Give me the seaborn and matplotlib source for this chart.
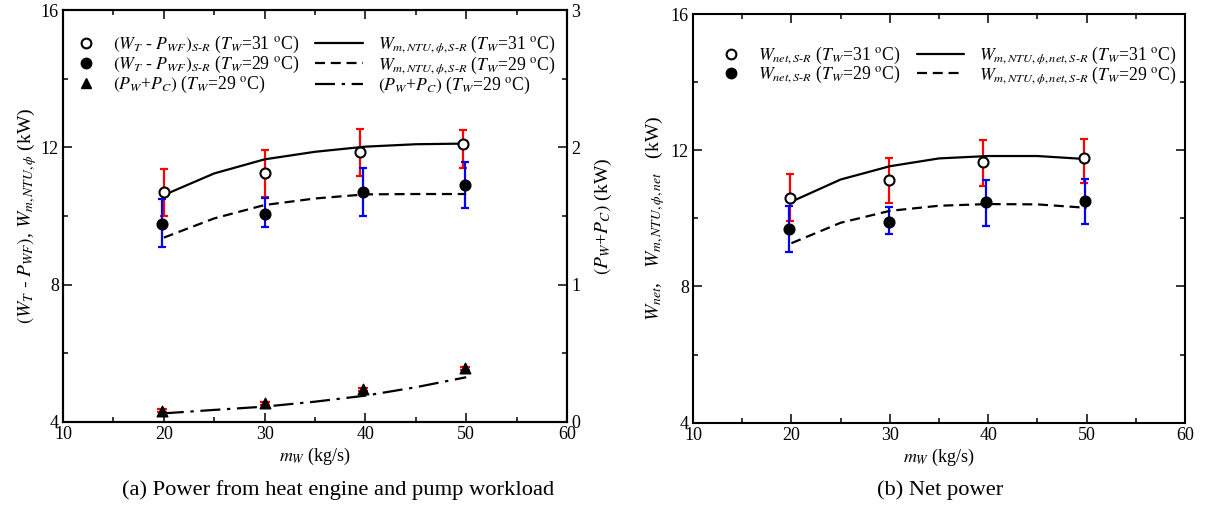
import matplotlib
matplotlib.use("Agg")
import matplotlib.pyplot as plt
import seaborn as sns
from matplotlib.lines import Line2D
from matplotlib.ticker import MultipleLocator

# ---------------- data ----------------
# (a) heat-engine output and pump work
mw_open_a = [20.0, 30.0, 39.5, 49.7]
mw_fill_a = [19.8, 30.0, 39.8, 49.9]
w_open_a = [10.71, 11.26, 11.87, 12.11]
w_open_a_lo = [10.01, 10.56, 11.16, 11.39]
w_open_a_hi = [11.37, 11.92, 12.53, 12.50]
w_fill_a = [9.77, 10.05, 10.71, 10.90]
w_fill_a_lo = [9.09, 9.69, 10.01, 10.22]
w_fill_a_hi = [10.49, 10.52, 11.39, 11.58]
pump_a = [0.082, 0.136, 0.239, 0.392]
pump_a_err = [0.012, 0.012, 0.012, 0.012]

mw_model = [20, 25, 30, 35, 40, 45, 50]
model31_a = [10.61, 11.24, 11.65, 11.87, 12.02, 12.09, 12.11]
model29_a = [9.37, 9.93, 10.32, 10.51, 10.63, 10.64, 10.64]
pump_model = [0.063, 0.088, 0.112, 0.148, 0.192, 0.253, 0.326]

# (b) net power
mw_open_b = [19.86, 29.92, 39.47, 49.74]
mw_fill_b = [19.76, 29.92, 39.74, 49.84]
w_open_b = [10.61, 11.12, 11.66, 11.76]
w_open_b_lo = [9.93, 10.44, 10.95, 11.03]
w_open_b_hi = [11.29, 11.78, 12.29, 12.34]
w_fill_b = [9.69, 9.90, 10.47, 10.52]
w_fill_b_lo = [9.00, 9.54, 9.79, 9.84]
w_fill_b_hi = [10.37, 10.34, 11.12, 11.17]
model31_b = [10.49, 11.14, 11.53, 11.76, 11.83, 11.83, 11.74]
model29_b = [9.27, 9.87, 10.22, 10.37, 10.42, 10.41, 10.31]

# ---------------- style ----------------
sns.set_theme(style="ticks")
plt.rcParams.update({
    "font.family": ["Liberation Serif", "DejaVu Serif"],
    "mathtext.fontset": "stix",
    "axes.linewidth": 1.5,
    "xtick.direction": "in",
    "ytick.direction": "in",
    "xtick.major.size": 6.5,
    "ytick.major.size": 6.5,
    "xtick.minor.size": 3.6,
    "ytick.minor.size": 3.6,
    "xtick.major.width": 1.1,
    "ytick.major.width": 1.1,
    "xtick.minor.width": 1.1,
    "ytick.minor.width": 1.1,
    "xtick.color": "black",
    "ytick.color": "black",
    "axes.edgecolor": "black",
    "text.color": "black",
    "axes.labelcolor": "black",
})

TICK_FS = 13
LABEL_FS = 14
LEG_FS = 12.7
DASHED = (0, (4.5, 2.6))
DASHDOT = (0, (9, 3, 1.5, 3))
DEG = r"$^{\rm o}$C"

fig = plt.figure(figsize=(12.06, 5.12), dpi=100)
ax1 = fig.add_axes([63 / 1206, 90 / 512, 504 / 1206, 412 / 512])
ax2 = fig.add_axes([693 / 1206, 89.3 / 512, 492 / 1206, 408.7 / 512])


def style_axes(ax, right=True):
    ax.set_xlim(10, 60)
    ax.set_ylim(4, 16)
    ax.xaxis.set_major_locator(MultipleLocator(10))
    ax.xaxis.set_minor_locator(MultipleLocator(5))
    ax.yaxis.set_major_locator(MultipleLocator(4))
    ax.yaxis.set_minor_locator(MultipleLocator(2))
    ax.tick_params(which="both", top=True, right=right, labelsize=TICK_FS, pad=3)
    for s in ax.spines.values():
        s.set_visible(True)
        s.set_color("black")
        s.set_linewidth(1.5)


def draw_measured(ax, x, y, lo, hi, color, filled):
    yerr = [[a - b for a, b in zip(y, lo)], [b - a for a, b in zip(y, hi)]]
    ax.errorbar(x, y, yerr=yerr, fmt="none", ecolor=color, elinewidth=1.6,
                capsize=3, capthick=1.6, zorder=3)
    sns.scatterplot(x=x, y=y, ax=ax, marker="o", s=52,
                    facecolor="black" if filled else "white",
                    edgecolor="black", linewidth=1.5, zorder=5, legend=False)


# ---------------- (a) ----------------
style_axes(ax1, right=False)
sns.lineplot(x=mw_model, y=model31_a, ax=ax1, color="black", lw=1.6, zorder=4)
sns.lineplot(x=mw_model, y=model29_a, ax=ax1, color="black", lw=1.6,
             linestyle=DASHED, zorder=4)
draw_measured(ax1, mw_open_a, w_open_a, w_open_a_lo, w_open_a_hi, "red", False)
draw_measured(ax1, mw_fill_a, w_fill_a, w_fill_a_lo, w_fill_a_hi, "blue", True)

ax1r = ax1.twinx()
ax1r.set_ylim(0, 3)
ax1r.yaxis.set_major_locator(MultipleLocator(1))
ax1r.yaxis.set_minor_locator(MultipleLocator(0.5))
ax1r.tick_params(which="both", direction="in", labelsize=TICK_FS, pad=3)
sns.lineplot(x=mw_model, y=pump_model, ax=ax1r, color="black", lw=1.6,
             linestyle=DASHDOT, zorder=4)
ax1r.errorbar(mw_fill_a, pump_a, yerr=pump_a_err, fmt="none", ecolor="red",
              elinewidth=1.6, capsize=3.5, capthick=1.6, zorder=3)
sns.scatterplot(x=mw_fill_a, y=pump_a, ax=ax1r, marker="^", s=58,
                color="black", edgecolor="black", linewidth=1, zorder=5, legend=False)

ax1.set_xlabel(r"$m_W$ (kg/s)", fontsize=TICK_FS, labelpad=2)
ax1.set_ylabel(r"$(W_T$ - $P_{WF})$, $W_{m,NTU,\phi}$ (kW)", fontsize=LABEL_FS, labelpad=1)
ax1r.set_ylabel(r"$(P_W$+$P_C)$ (kW)", fontsize=LABEL_FS, labelpad=9)

mk_open = Line2D([], [], ls="none", marker="o", ms=7, mfc="white", mec="black", mew=1.5)
mk_fill = Line2D([], [], ls="none", marker="o", ms=7, mfc="black", mec="black", mew=1.5)
mk_tri = Line2D([], [], ls="none", marker="^", ms=7, mfc="black", mec="black")
ln_solid = Line2D([], [], color="black", lw=1.6)
ln_dash = Line2D([], [], color="black", lw=1.6, ls=DASHED)
ln_dd = Line2D([], [], color="black", lw=1.6, ls=DASHDOT)

leg_kw = dict(frameon=False, fontsize=LEG_FS, borderpad=0, borderaxespad=0,
              loc="upper left")
la1 = ax1r.legend(
    [mk_open, mk_fill, mk_tri],
    [r"$(W_T$ - $P_{WF})_{S\text{-}R}$ ($T_W$=31 " + DEG + ")",
     r"$(W_T$ - $P_{WF})_{S\text{-}R}$ ($T_W$=29 " + DEG + ")",
     r"$(P_W$+$P_C)$ ($T_W$=29 " + DEG + ")"],
    bbox_to_anchor=(0.029, 0.942), handlelength=1.0, handletextpad=1.0,
    labelspacing=-0.06, **leg_kw)
ax1r.add_artist(la1)
ax1r.legend(
    [ln_solid, ln_dash, ln_dd],
    [r"$W_{m,NTU,\phi,S\text{-}R}$ ($T_W$=31 " + DEG + ")",
     r"$W_{m,NTU,\phi,S\text{-}R}$ ($T_W$=29 " + DEG + ")",
     r"$(P_W$+$P_C)$ ($T_W$=29 " + DEG + ")"],
    bbox_to_anchor=(0.5, 0.942), handlelength=2.7, handletextpad=0.85,
    labelspacing=-0.06, **leg_kw)

# ---------------- (b) ----------------
style_axes(ax2, right=True)
sns.lineplot(x=mw_model, y=model31_b, ax=ax2, color="black", lw=1.6, zorder=4)
sns.lineplot(x=mw_model, y=model29_b, ax=ax2, color="black", lw=1.6,
             linestyle=DASHED, zorder=4)
draw_measured(ax2, mw_open_b, w_open_b, w_open_b_lo, w_open_b_hi, "red", False)
draw_measured(ax2, mw_fill_b, w_fill_b, w_fill_b_lo, w_fill_b_hi, "blue", True)

ax2.set_xlabel(r"$m_W$ (kg/s)", fontsize=TICK_FS, labelpad=2)
ax2.set_ylabel(r"$W_{net}$,   $W_{m,NTU,\phi,net}$   (kW)", fontsize=LABEL_FS, labelpad=3)

lb1 = ax2.legend(
    [mk_open, mk_fill],
    [r"$W_{net,S\text{-}R}$ ($T_W$=31 " + DEG + ")",
     r"$W_{net,S\text{-}R}$ ($T_W$=29 " + DEG + ")"],
    bbox_to_anchor=(0.06, 0.925), handlelength=1.0, handletextpad=1.0,
    labelspacing=-0.12, **leg_kw)
ax2.add_artist(lb1)
ax2.legend(
    [ln_solid, ln_dash],
    [r"$W_{m,NTU,\phi,net,S\text{-}R}$ ($T_W$=31 " + DEG + ")",
     r"$W_{m,NTU,\phi,net,S\text{-}R}$ ($T_W$=29 " + DEG + ")"],
    bbox_to_anchor=(0.455, 0.925), handlelength=2.7, handletextpad=0.85,
    labelspacing=-0.12, **leg_kw)

# ---------------- captions ----------------
fig.text(338 / 1206, 1 - 490 / 512, "(a) Power from heat engine and pump workload",
         ha="center", va="center", fontsize=16.2)
fig.text(940 / 1206, 1 - 490 / 512, "(b) Net power",
         ha="center", va="center", fontsize=16.2)

fig.savefig("out.png", dpi=100)
